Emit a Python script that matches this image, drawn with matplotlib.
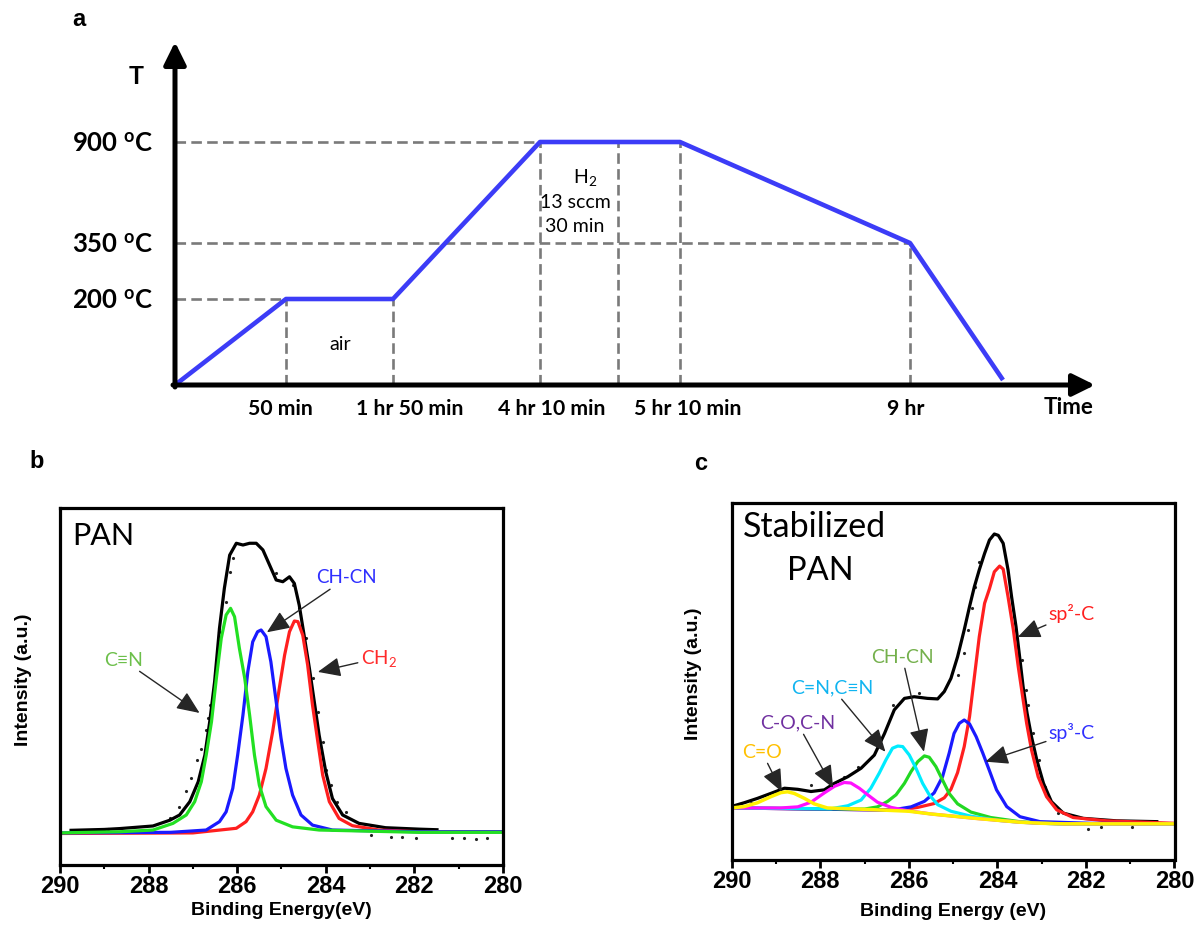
import numpy as np
import matplotlib
matplotlib.use('Agg')
import matplotlib.pyplot as plt

plt.rcParams['font.family'] = ['Lato', 'DejaVu Sans']
plt.rcParams['mathtext.fontset'] = 'custom'
plt.rcParams['mathtext.rm'] = 'Lato'
plt.rcParams['mathtext.bf'] = 'Lato:bold'
plt.rcParams['mathtext.it'] = 'Lato:italic'

# ---- panel a: heat treatment schedule (schematic positions) ----
profile_t = [0, 1.11, 2.18, 3.65, 5.05, 7.35, 8.28]
profile_T = [0, 0.86, 0.86, 2.43, 2.43, 1.42, 0.05]
step_pos = [1.11, 2.18, 3.65, 5.05, 7.35]
step_label_pos = [1.055, 2.35, 3.77, 5.125, 7.31]
step_labels = ['50 min', '1 hr 50 min', '4 hr 10 min', '5 hr 10 min', '9 hr']
h2_end = 4.43
temp_levels = [0.86, 1.42, 2.43]
temp_values = ['200', '350', '900']
level_reach = [1.11, 7.35, 3.65]

# ---- panel b: PAN C1s ----
b_env_E = [289.75, 289.0, 288.65, 287.9, 287.52, 287.3, 287.07, 286.88, 286.73, 286.62, 286.51,
           286.40, 286.29, 286.17, 286.02, 285.87, 285.72, 285.57, 285.42, 285.27, 285.12, 284.97,
           284.82, 284.71, 284.6, 284.49, 284.37, 284.26, 284.15, 284.0, 283.85, 283.62, 283.25,
           282.65, 281.89, 281.49]
b_env_I = [0.005, 0.008, 0.011, 0.020, 0.04, 0.058, 0.104, 0.173, 0.265, 0.381, 0.519,
           0.704, 0.842, 0.957, 0.998, 0.992, 0.998, 0.998, 0.975, 0.923, 0.871, 0.865,
           0.882, 0.859, 0.784, 0.680, 0.565, 0.450, 0.334, 0.207, 0.115, 0.058, 0.029,
           0.014, 0.009, 0.007]
b_cn_E = [290.0, 288.65, 287.9, 287.45, 287.15, 286.96, 286.81, 286.7, 286.58, 286.47, 286.36,
          286.25, 286.15, 286.06, 285.95, 285.83, 285.72, 285.61, 285.5, 285.35, 285.12, 284.75,
          284.15, 281.89, 280.0]
b_cn_I = [-0.004, 0.0, 0.006, 0.029, 0.058, 0.104, 0.173, 0.265, 0.381, 0.531, 0.669,
          0.750, 0.773, 0.744, 0.634, 0.531, 0.404, 0.265, 0.161, 0.087, 0.040, 0.017,
          0.006, -0.002, -0.002]
b_chcn_E = [290.0, 287.5, 286.7, 286.4, 286.25, 286.1, 285.99, 285.87, 285.76, 285.65, 285.54,
            285.46, 285.35, 285.24, 285.12, 285.01, 284.9, 284.75, 284.56, 284.3, 283.85, 281.89, 280.0]
b_chcn_I = [-0.004, -0.002, 0.006, 0.035, 0.069, 0.150, 0.265, 0.404, 0.554, 0.657, 0.692,
            0.698, 0.675, 0.588, 0.450, 0.323, 0.219, 0.127, 0.058, 0.023, 0.006, 0.0, 0.0]
b_ch2_E = [290.0, 287.0, 286.02, 285.8, 285.65, 285.5, 285.35, 285.2, 285.05, 284.93, 284.82,
           284.71, 284.63, 284.52, 284.41, 284.3, 284.18, 284.07, 283.92, 283.7, 283.4, 282.8,
           281.89, 280.0]
b_ch2_I = [-0.006, -0.004, 0.012, 0.035, 0.069, 0.127, 0.219, 0.346, 0.496, 0.611, 0.692,
           0.729, 0.727, 0.680, 0.577, 0.438, 0.311, 0.196, 0.104, 0.046, 0.021, 0.006, 0.0, 0.0]
b_raw_E = [288.91, 287.52, 287.31, 287.15, 287.04, 286.91, 286.81, 286.71, 286.66, 286.61, 286.51,
           286.4, 286.26, 286.17, 286.1, 285.12, 284.75, 284.61, 284.45, 284.3, 284.17, 284.07,
           284.0, 283.89, 283.74, 283.55, 282.98, 282.53, 282.28, 281.97, 281.15, 280.88, 280.6, 280.35]
b_raw_I = [0.011, 0.046, 0.087, 0.141, 0.185, 0.248, 0.288, 0.352, 0.392, 0.438, 0.543,
           0.692, 0.796, 0.9, 0.946, 0.894, 0.854, 0.773, 0.669, 0.531, 0.415, 0.311,
           0.213, 0.161, 0.104, 0.069, -0.012, -0.017, -0.017, -0.023, -0.02, -0.02, -0.025, -0.02]

# ---- panel c: stabilized PAN C1s ----
c_env_E = [289.95, 289.72, 289.42, 289.12, 288.81, 288.51, 288.21, 287.91, 287.68, 287.38, 287.08,
           286.78, 286.55, 286.33, 286.1, 285.88, 285.58, 285.35, 285.2, 285.05, 284.9, 284.75,
           284.63, 284.52, 284.41, 284.29, 284.18, 284.07, 283.98, 283.87, 283.76, 283.68, 283.58,
           283.49, 283.42, 283.33, 283.23, 283.11, 282.96, 282.78, 282.51, 282.06, 281.31, 280.4]
c_env_I = [0.008, 0.019, 0.035, 0.053, 0.072, 0.068, 0.060, 0.066, 0.090, 0.114, 0.145,
           0.193, 0.272, 0.358, 0.400, 0.406, 0.400, 0.398, 0.425, 0.473, 0.552, 0.650,
           0.735, 0.808, 0.869, 0.929, 0.978, 1.0, 0.995, 0.966, 0.869, 0.771, 0.662,
           0.540, 0.443, 0.346, 0.260, 0.175, 0.090, 0.023, -0.019, -0.038, -0.047, -0.050]
c_sp2_E = [290.0, 286.25, 285.8, 285.43, 285.2, 285.05, 284.9, 284.75, 284.63, 284.52, 284.41,
           284.29, 284.18, 284.07, 283.95, 283.87, 283.76, 283.64, 283.53, 283.43, 283.34, 283.23,
           283.08, 282.89, 282.66, 282.29, 281.53, 280.0]
c_sp2_I = [0.0, -0.008, 0.002, 0.016, 0.037, 0.068, 0.129, 0.224, 0.333, 0.479, 0.625,
           0.747, 0.80, 0.862, 0.883, 0.872, 0.771, 0.650, 0.516, 0.406, 0.309, 0.212,
           0.114, 0.041, -0.007, -0.035, -0.047, -0.056]
c_sp3_E = [290.0, 286.4, 285.95, 285.65, 285.43, 285.24, 285.09, 284.98, 284.86, 284.75, 284.63,
           284.48, 284.33, 284.18, 284.02, 283.79, 283.49, 283.04, 281.91, 280.0]
c_sp3_I = [0.0, -0.008, 0.004, 0.024, 0.055, 0.114, 0.200, 0.272, 0.309, 0.321, 0.307,
           0.260, 0.200, 0.136, 0.066, 0.005, -0.032, -0.05, -0.056, -0.058]
c_chcn_E = [290.0, 287.0, 286.71, 286.48, 286.29, 286.1, 285.95, 285.8, 285.65, 285.54, 285.39,
            285.24, 285.09, 284.9, 284.6, 284.15, 283.5, 283.0, 282.5, 280.0]
c_chcn_I = [0.0, -0.004, 0.004, 0.024, 0.048, 0.090, 0.133, 0.169, 0.190, 0.185, 0.151,
            0.102, 0.053, 0.015, -0.015, -0.035, -0.05, -0.056, -0.058, -0.058]
c_cn_E = [290.0, 287.76, 287.38, 287.08, 286.86, 286.67, 286.52, 286.37, 286.25, 286.14, 285.99,
          285.84, 285.69, 285.54, 285.35, 285.05, 284.6, 284.0, 283.5, 283.0, 282.5, 280.0]
c_cn_I = [0.0, -0.003, 0.008, 0.029, 0.072, 0.127, 0.175, 0.218, 0.226, 0.224, 0.193,
          0.145, 0.090, 0.048, 0.012, -0.012, -0.03, -0.045, -0.052, -0.056, -0.058, -0.058]
c_co_E = [290.0, 288.89, 288.51, 288.21, 287.91, 287.68, 287.46, 287.31, 287.12, 286.93, 286.71,
          286.4, 286.03, 285.5, 285.0, 284.5, 284.0, 283.5, 283.0, 282.5, 280.0]
c_co_I = [0.0, 0.0, 0.004, 0.021, 0.055, 0.079, 0.093, 0.091, 0.072, 0.048, 0.021,
          0.002, -0.01, -0.022, -0.03, -0.038, -0.045, -0.052, -0.056, -0.058, -0.058]
c_cdo_E = [290.0, 289.72, 289.42, 289.12, 288.89, 288.74, 288.59, 288.36, 288.14, 287.84, 287.0,
           286.0, 285.5, 285.0, 284.5, 284.0, 283.5, 283.0, 282.5, 280.0]
c_cdo_I = [0.0, 0.005, 0.019, 0.041, 0.056, 0.059, 0.053, 0.035, 0.015, 0.0, -0.005,
           -0.012, -0.022, -0.03, -0.038, -0.045, -0.052, -0.056, -0.058, -0.058]
c_raw_E = [289.57, 288.97, 288.21, 287.46, 287.16, 286.37, 285.77, 284.9, 284.75, 284.67, 284.58,
           284.5, 284.41, 283.45, 283.36, 283.30, 283.19, 283.06, 282.93, 282.63, 281.95, 281.65, 280.97]
c_raw_I = [0.019, 0.060, 0.084, 0.114, 0.150, 0.376, 0.421, 0.485, 0.564, 0.65, 0.729,
           0.808, 0.899, 0.540, 0.431, 0.376, 0.273, 0.175, 0.078, -0.019, -0.078, -0.071, -0.071]

W, H = 1202, 933
fig = plt.figure(figsize=(W / 100, H / 100), dpi=100)


def px_axes(left, top, right, bottom):
    return fig.add_axes([left / W, 1 - bottom / H, (right - left) / W, (bottom - top) / H])


# ================= panel a =================
ax = px_axes(175, 42, 1095, 385)
ax.set_xlim(0, 9.2)
ax.set_ylim(0, 3.43)
for s in ax.spines.values():
    s.set_visible(False)

dash = (0, (4, 2))
gray = '#7a7a7a'
for lev, reach in zip(temp_levels, level_reach):
    ax.plot([0, reach], [lev, lev], color=gray, lw=1.9, ls=dash, zorder=1, clip_on=False)
for p in step_pos + [h2_end]:
    top = np.interp(p, profile_t, profile_T)
    ax.plot([p, p], [0, top], color=gray, lw=1.9, ls=dash, zorder=1, clip_on=False)

ax.plot(profile_t, profile_T, color='#3c3cf7', lw=3.3, zorder=3, clip_on=False,
        solid_capstyle='butt')

arrow_kw = dict(arrowstyle='-|>,head_length=0.85,head_width=0.42', mutation_scale=16,
                lw=3.6, color='black', shrinkA=0, shrinkB=0)
ax.annotate('', xy=(0, 3.43), xytext=(0, -0.02), arrowprops=arrow_kw, annotation_clip=False)
ax.annotate('', xy=(9.2, 0), xytext=(-0.02, 0), arrowprops=arrow_kw, annotation_clip=False)

ax.set_xticks(step_label_pos, step_labels, fontsize=15.3, fontweight='bold')
ax.set_yticks(temp_levels, [v + r' $^{\mathbf{o}}$C' for v in temp_values],
              fontsize=18.5, fontweight='bold')
ax.tick_params(axis='x', length=0, pad=10)
ax.tick_params(axis='y', length=0, pad=16)

ax.text(-0.39, 3.08, 'T', fontsize=18, fontweight='bold', ha='center', va='center')
ax.text(8.94, -0.22, 'Time', fontsize=16, fontweight='bold', ha='center', va='center')
ax.text(1.65, 0.40, 'air', fontsize=14, ha='center', va='center')
ax.text(4.10, 2.08, 'H$_2$', fontsize=14, ha='center', va='center')
ax.text(4.00, 1.83, '13 sccm', fontsize=14, ha='center', va='center')
ax.text(4.00, 1.58, '30 min', fontsize=14, ha='center', va='center')


# ================= panels b, c =================
def style_xps(ax, ylim, xlabel, lab_y, ylab_x):
    ax.set_xlim(290, 280)
    ax.set_ylim(*ylim)
    for s in ax.spines.values():
        s.set_linewidth(2.3)
    ax.set_xticks(range(290, 279, -2), [str(v) for v in range(290, 279, -2)],
                  fontsize=17, fontweight='bold', fontfamily='Liberation Sans')
    ax.set_xticks(range(289, 280, -2), minor=True)
    ax.set_yticks([])
    ax.tick_params(axis='x', which='major', direction='out', length=6, width=2, pad=1.5)
    ax.tick_params(axis='x', which='minor', direction='out', length=3, width=1.5)
    ax.set_xlabel(xlabel, fontsize=14, fontweight='bold', fontfamily='Liberation Sans')
    ax.xaxis.set_label_coords(0.5, lab_y)
    ax.set_ylabel('Intensity (a.u.)', fontsize=14, fontweight='bold',
                  fontfamily='Liberation Sans')
    ax.yaxis.set_label_coords(ylab_x, 0.52)


head = dict(arrowstyle='-|>,head_length=0.7,head_width=0.3', mutation_scale=20,
            color='#262626', lw=1.0, shrinkA=0, shrinkB=0)

# ---- b ----
axb = px_axes(60, 508, 503, 865)
style_xps(axb, (-0.115, 1.12), 'Binding Energy(eV)', -0.103, -0.064)
axb.plot(b_raw_E, b_raw_I, ls='none', marker='.', ms=2.5, color='#222222')
axb.plot(b_env_E, b_env_I, color='black', lw=2.3)
axb.plot(b_ch2_E, b_ch2_I, color='#ff1f1f', lw=2.3)
axb.plot(b_chcn_E, b_chcn_I, color='#1a1aff', lw=2.3)
axb.plot(b_cn_E, b_cn_I, color='#22e022', lw=2.3)
axb.text(0.028, 0.96, 'PAN', transform=axb.transAxes, fontsize=22, va='top', ha='left')
axb.annotate('C\u2261N', xy=(286.85, 0.411), xytext=(288.57, 0.594), color='#6cbf4a',
             fontsize=14, ha='center', va='center', arrowprops=head,
             fontfamily=['Lato', 'DejaVu Sans'])
axb.annotate('CH-CN', xy=(285.33, 0.690), xytext=(283.53, 0.878), color='#2f2fff',
             fontsize=13.5, ha='center', va='center', arrowprops=head)
axb.annotate('CH$_2$', xy=(284.18, 0.553), xytext=(282.81, 0.601), color='#ff2a2a',
             fontsize=13.5, ha='center', va='center', arrowprops=head)

# ---- c ----
axc = px_axes(731.8, 502.5, 1174.5, 860)
style_xps(axc, (-0.19, 1.115), 'Binding Energy (eV)', -0.121, -0.068)
axc.plot(c_raw_E, c_raw_I, ls='none', marker='.', ms=2.5, color='#222222')
axc.plot(c_env_E, c_env_I, color='black', lw=2.3)
axc.plot(c_sp2_E, c_sp2_I, color='#ff1f1f', lw=2.3)
axc.plot(c_sp3_E, c_sp3_I, color='#1a1aff', lw=2.3)
axc.plot(c_chcn_E, c_chcn_I, color='#22d822', lw=2.3)
axc.plot(c_cn_E, c_cn_I, color='#00ecff', lw=2.3)
axc.plot(c_co_E, c_co_I, color='#ff10ff', lw=2.3)
axc.plot(c_cdo_E, c_cdo_I, color='#fff000', lw=2.5)
axc.text(0.025, 0.975, 'Stabilized', transform=axc.transAxes, fontsize=24.5, va='top', ha='left')
axc.text(0.125, 0.85, 'PAN', transform=axc.transAxes, fontsize=23.5, va='top', ha='left')
axc.annotate('sp\u00b2-C', xy=(283.54, 0.624), xytext=(282.32, 0.708), color='#ff2020',
             fontsize=14, ha='center', va='center', arrowprops=head)
axc.annotate('sp\u00b3-C', xy=(284.27, 0.169), xytext=(282.32, 0.274), color='#3030ff',
             fontsize=14, ha='center', va='center', arrowprops=head)
axc.annotate('CH-CN', xy=(285.66, 0.205), xytext=(286.15, 0.551), color='#74b04c',
             fontsize=14, ha='center', va='center', arrowprops=head)
axc.annotate('C=N,C\u2261N', xy=(286.53, 0.205), xytext=(287.73, 0.438), color='#10b4f0',
             fontsize=14, ha='center', va='center', arrowprops=head,
             fontfamily=['Lato', 'DejaVu Sans'])
axc.annotate('C-O,C-N', xy=(287.71, 0.073), xytext=(288.52, 0.310), color='#7030a0',
             fontsize=14, ha='center', va='center', arrowprops=head)
axc.annotate('C=O', xy=(288.87, 0.059), xytext=(289.32, 0.204), color='#ffc000',
             fontsize=14, ha='center', va='center', arrowprops=head)

# panel letters
for letter, x, y in [('a', 78.5, 20), ('b', 37, 462), ('c', 700.5, 463)]:
    fig.text(x / W, 1 - y / H, letter, fontsize=17, fontweight='bold',
             fontfamily='Liberation Sans', ha='center', va='center')

fig.savefig('out.png', dpi=100)
